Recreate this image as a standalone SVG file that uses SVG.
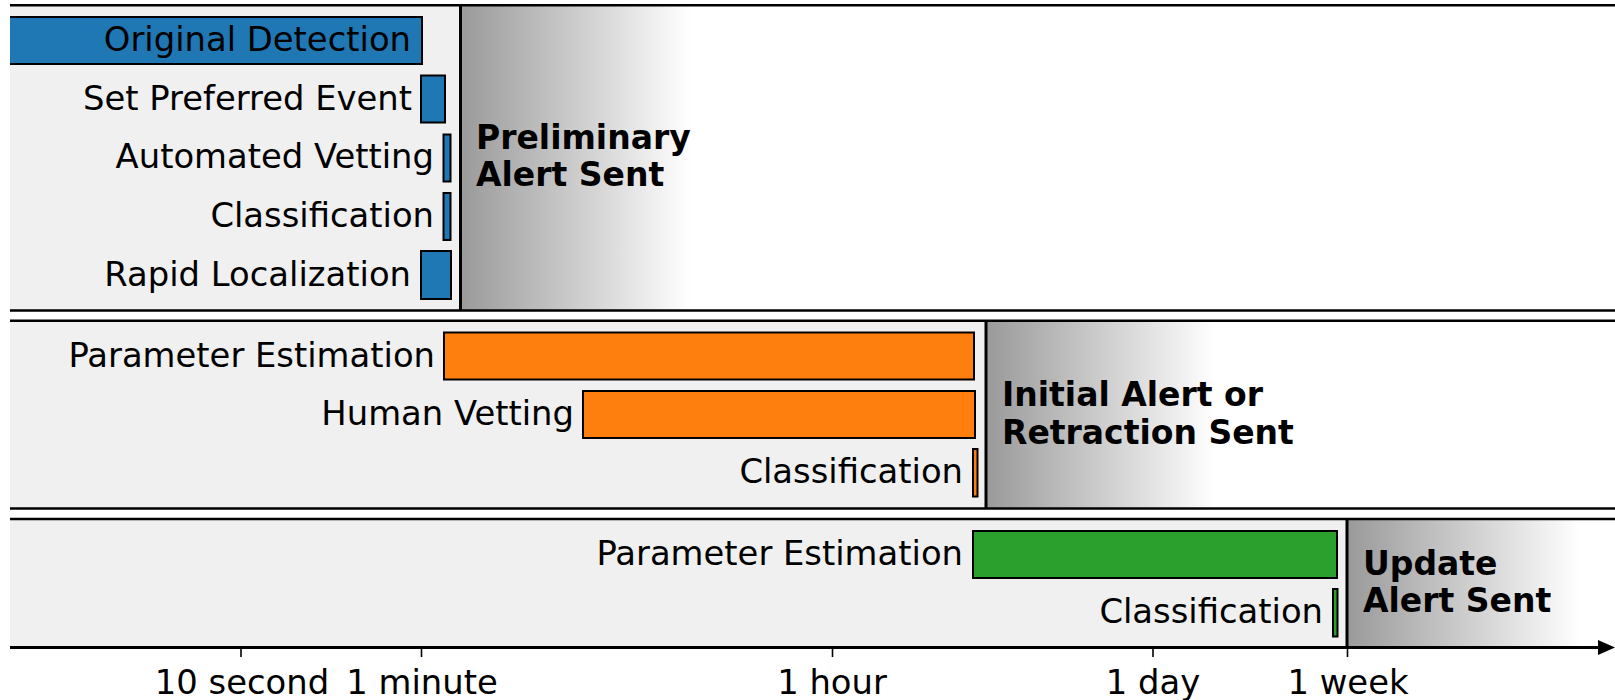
<svg xmlns="http://www.w3.org/2000/svg" width="1615" height="700" viewBox="0 0 1615 700">
<defs>
<linearGradient id="fade" x1="0" y1="0" x2="1" y2="0">
<stop offset="0" stop-color="#9a9a9a"/>
<stop offset="1" stop-color="#ffffff"/>
</linearGradient>
<marker id="arrow" viewBox="0 0 17 15" refX="0" refY="7.5" markerWidth="17" markerHeight="15" markerUnits="userSpaceOnUse" orient="auto">
<path d="M0,0 L17,7.5 L0,15 Z" fill="#000"/>
</marker>
<style>
text{font-family:"DejaVu Sans","Liberation Sans",sans-serif;font-size:33.8px;fill:#000}
.lbl{text-anchor:end}
.hd{font-weight:bold;text-anchor:start;font-size:33px}
.tk{text-anchor:middle}
.bg{fill:#f0f0f0}
.fd{fill:url(#fade)}
.hl{stroke:#000;stroke-width:2.5;fill:none}
.dv{stroke:#000;stroke-width:3;fill:none}
.b1{fill:#1f77b4;stroke:#000;stroke-width:2}
.b2{fill:#ff7f0e;stroke:#000;stroke-width:2}
.b3{fill:#2ca02c;stroke:#000;stroke-width:2}
.tick{stroke:#000;stroke-width:1.6}
</style>
</defs>
<rect width="1615" height="700" fill="#fff"/>

<g id="panel-preliminary">
<rect class="bg" x="10" y="5" width="451" height="305"/>
<rect class="fd" x="461" y="5" width="230" height="305"/>
<line class="hl" x1="10" y1="5.3" x2="1615" y2="5.3"/>
<line class="hl" x1="10" y1="310.5" x2="1615" y2="310.5"/>
<line class="dv" x1="460.5" y1="5" x2="460.5" y2="310"/>
<text class="hd" x="476" y="149">Preliminary</text>
<text class="hd" x="476" y="186">Alert Sent</text>
</g>

<g id="panel-initial">
<rect class="bg" x="10" y="321" width="976" height="187"/>
<rect class="fd" x="987" y="321" width="228" height="187"/>
<line class="hl" x1="10" y1="320.7" x2="1615" y2="320.7"/>
<line class="hl" x1="10" y1="508.5" x2="1615" y2="508.5"/>
<line class="dv" x1="986" y1="321" x2="986" y2="508"/>
<text class="hd" x="1002" y="406">Initial Alert or</text>
<text class="hd" x="1002" y="444">Retraction Sent</text>
</g>

<g id="panel-update">
<rect class="bg" x="10" y="519" width="1337" height="128"/>
<rect class="fd" x="1348" y="519" width="232" height="128"/>
<line class="hl" x1="10" y1="519" x2="1615" y2="519"/>
<line class="dv" x1="1347" y1="519" x2="1347" y2="647"/>
<text class="hd" x="1363" y="575">Update</text>
<text class="hd" x="1363" y="612">Alert Sent</text>
</g>

<g id="original-detection">
<rect x="10" y="17" width="412" height="47" fill="#1f77b4"/>
<path d="M10,17 H422 V64 H10" fill="none" stroke="#000" stroke-width="2"/>
<text class="lbl" x="411" y="50.5">Original Detection</text>
</g>
<g id="set-preferred-event">
<rect class="b1" x="421" y="75.5" width="24" height="47"/>
<text class="lbl" x="412" y="109.5">Set Preferred Event</text>
</g>
<g id="automated-vetting">
<rect class="b1" x="443.5" y="134.5" width="7" height="47"/>
<text class="lbl" x="434" y="168">Automated Vetting</text>
</g>
<g id="classification-1">
<rect class="b1" x="443.5" y="193" width="7" height="47"/>
<text class="lbl" x="434" y="226.5">Classification</text>
</g>
<g id="rapid-localization">
<rect class="b1" x="421" y="251" width="30" height="48"/>
<text class="lbl" x="411" y="285.5">Rapid Localization</text>
</g>

<g id="parameter-estimation-2">
<rect class="b2" x="444" y="332.5" width="530" height="47"/>
<text class="lbl" x="435" y="366.5">Parameter Estimation</text>
</g>
<g id="human-vetting">
<rect class="b2" x="583" y="391" width="392" height="47"/>
<text class="lbl" x="574" y="425">Human Vetting</text>
</g>
<g id="classification-2">
<rect class="b2" x="973" y="449" width="4.5" height="47.5"/>
<text class="lbl" x="963" y="483">Classification</text>
</g>

<g id="parameter-estimation-3">
<rect class="b3" x="973" y="531" width="364" height="47"/>
<text class="lbl" x="963" y="565">Parameter Estimation</text>
</g>
<g id="classification-3">
<rect class="b3" x="1333" y="589" width="4.5" height="47.5"/>
<text class="lbl" x="1323" y="622.5">Classification</text>
</g>

<g id="connectors">
<line x1="10" y1="647.5" x2="1598" y2="647.5" stroke="#000" stroke-width="3" marker-end="url(#arrow)"/>
<line class="tick" x1="241" y1="647" x2="241" y2="657"/>
<line class="tick" x1="421.5" y1="647" x2="421.5" y2="657"/>
<line class="tick" x1="832.5" y1="647" x2="832.5" y2="657"/>
<line class="tick" x1="1153" y1="647" x2="1153" y2="657"/>
<line class="tick" x1="1347.5" y1="647" x2="1347.5" y2="657"/>
<text class="tk" x="242" y="694">10 second</text>
<text class="tk" x="422" y="694">1 minute</text>
<text class="tk" x="832" y="694">1 hour</text>
<text class="tk" x="1153" y="694">1 day</text>
<text class="tk" x="1348" y="694">1 week</text>
</g>
</svg>
